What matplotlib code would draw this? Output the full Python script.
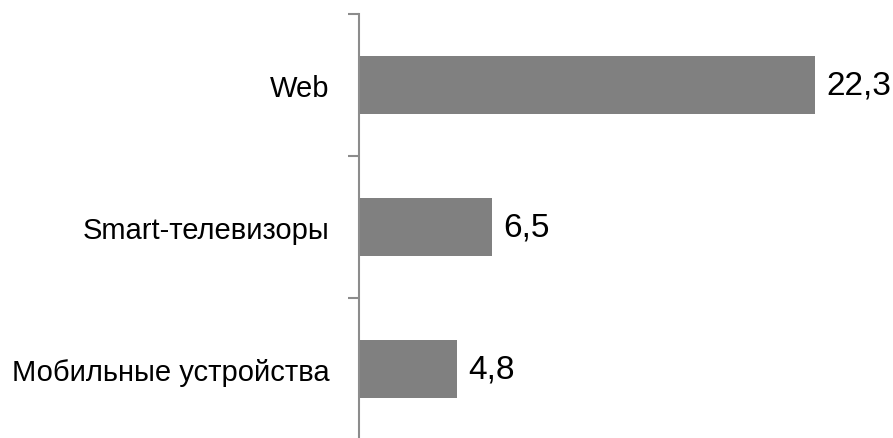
import matplotlib
matplotlib.use("Agg")
import matplotlib.pyplot as plt

plt.rcParams['font.family'] = ['Liberation Sans Narrow', 'Liberation Sans', 'DejaVu Sans']

categories = ["Мобильные устройства", "Smart-телевизоры", "Web"]
values = [4.8, 6.5, 22.3]
value_labels = ["4,8", "6,5", "22,3"]

fig = plt.figure(figsize=(8.93, 4.39), dpi=100)
ax = fig.add_axes([359 / 893, -2 / 439, 534 / 893, 426 / 439])

pos = list(range(len(categories)))
bars = ax.barh(pos, values, height=0.41, color="#808080", zorder=2)

for b, lab in zip(bars, value_labels):
    ax.annotate(lab, (b.get_width(), b.get_y() + b.get_height() / 2),
                xytext=(8, 0), textcoords="offset points",
                va="center", ha="left", fontsize=24, color="black")

ax.set_xlim(0, 26.1)
ax.set_ylim(-0.5, 2.5)

# boundary ticks between categories, labels on minor ticks
ax.set_yticks([-0.5, 0.5, 1.5, 2.5])
ax.set_yticklabels([])
ax.set_yticks(pos, minor=True)
ax.set_yticklabels(categories, minor=True, fontsize=21)
ax.tick_params(axis="y", which="major", length=8, width=1.5, color="#8c8c8c", direction="out")
ax.tick_params(axis="y", which="minor", length=0, pad=21)

ax.set_xticks([])
for s in ["top", "right", "bottom"]:
    ax.spines[s].set_visible(False)
ax.spines["left"].set_color("#8c8c8c")
ax.spines["left"].set_linewidth(1.5)

fig.savefig("out.png", dpi=100)
